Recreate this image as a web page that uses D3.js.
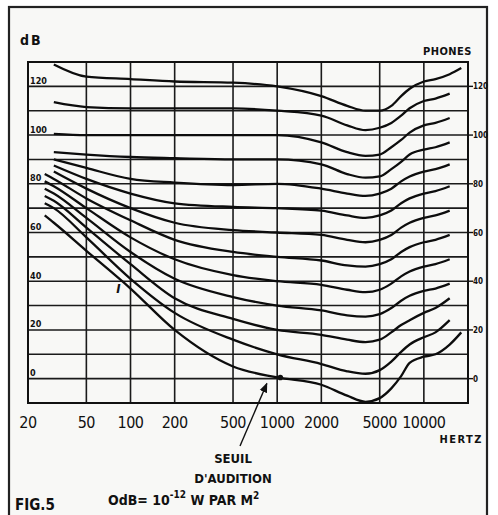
<!DOCTYPE html>
<html>
<head>
<meta charset="utf-8">
<script src="https://cdn.jsdelivr.net/npm/d3@7"></script>
<style>
  body { margin: 0; background: #fff; }
  text { font-family: "DejaVu Sans Condensed", "DejaVu Sans", sans-serif; fill: #111; }
</style>
</head>
<body>
<div id="chart"></div>
<script>
// frequencies (Hz) where each loudness contour is read
const freqs = [26, 30, 50, 100, 200, 500, 1000, 2000, 3000, 4000, 5000, 6000, 7000, 8000, 10000, 12000, 15000, 18000];

// dB values per contour (phones), null = contour not drawn there
const phon120 = [null, 129, 124, 123, 122, 121.5, 120, 116, 112, 110, 110, 112, 116, 119, 122, 123, 125, 127.5];
const phon110 = [null, 113.5, 111.5, 111, 111, 111, 110, 108, 104, 102, 103, 105, 108, 111, 114, 115, 117, null];
const phon100 = [null, 100.5, 100, 100, 100, 100, 100, 97, 93, 91.5, 92, 95, 98, 101, 104, 105, 107, null];
const phon90 = [null, 93, 92, 91, 90.5, 90, 90, 88, 84, 82.5, 83, 86, 89, 92, 94, 95, 97, null];
const phon80 = [null, 90, 86.5, 82, 80.5, 79.5, 80, 78, 76, 75, 76, 78, 81, 83, 85, 86, 88, null];
const phon70 = [null, 87.5, 82, 76, 72, 70.5, 70, 69, 67, 66, 67, 69, 72, 74, 76, 77, 79, null];
const phon60 = [null, 85, 78, 70, 64, 61, 60, 59, 57, 56, 57, 59, 62, 64, 66, 67, 69, null];
const phon50 = [84, 82, 74, 65, 57, 52, 50, 48.5, 46.5, 46, 47, 49, 52, 54, 56, 57, 59, null];
const phon40 = [81, 79, 70, 58, 49, 42.5, 40, 38.5, 36.5, 35.5, 36.5, 39, 42, 44, 46, 47, 49, null];
const phon30 = [78, 76, 66, 52, 41, 33.5, 30, 28, 26, 25.5, 26.5, 29, 32, 34, 36, 37, 39, null];
const phon20 = [75, 73, 62, 47, 33, 24.5, 20, 18, 16, 15, 16, 19, 22, 24, 27, 29, 33, null];
const phon10 = [72, 70, 58, 41, 27, 16, 10, 6, 3, 2, 3.5, 7, 11, 14, 17, 19, 24, null];
const phon0 = [67, 64, 52.5, 37, 20, 5, 0.5, -2.5, -7, -9.5, -8, -4, 1, 6.5, 9, 10, 14, 19];

const contours = [phon120, phon110, phon100, phon90, phon80, phon70, phon60,
                  phon50, phon40, phon30, phon20, phon10, phon0];

// axis ticks
const freqTicks = [20, 50, 100, 200, 500, 1000, 2000, 5000, 10000];
const freqLabels = ["20", "50", "100", "200", "500", "1000", "2000", "5000", "10000"];
const dbGrid = [-10, 0, 10, 20, 30, 40, 50, 60, 70, 80, 90, 100, 110, 120, 130];
const dbLabels = [0, 20, 40, 60, 80, 100, 120];

const width = 498, height = 515;
const plot = { left: 28, right: 468, top: 62, bottom: 403 };

const svg = d3.select("#chart").append("svg")
  .attr("width", width)
  .attr("height", height);

// scanned paper + outer frame
svg.append("rect").attr("width", width).attr("height", height).attr("fill", "#fff");
svg.append("rect")
  .attr("x", 9).attr("y", 7).attr("width", 478).attr("height", 520)
  .attr("fill", "#f8f8f6").attr("stroke", "#222").attr("stroke-width", 2.2);

const x = d3.scaleLog().domain([20, 20000]).range([plot.left, plot.right]);
const y = d3.scaleLinear().domain([-10, 130]).range([plot.bottom, plot.top]);

// grid
const grid = svg.append("g").attr("stroke", "#1a1a1a");
grid.selectAll("line.h").data(dbGrid).enter().append("line")
  .attr("x1", plot.left).attr("x2", plot.right)
  .attr("y1", d => y(d)).attr("y2", d => y(d))
  .attr("stroke-width", 1.6);
grid.selectAll("line.v").data(freqTicks.concat([20000])).enter().append("line")
  .attr("x1", d => x(d)).attr("x2", d => x(d))
  .attr("y1", plot.top).attr("y2", plot.bottom)
  .attr("stroke-width", 1.6);
svg.append("rect")
  .attr("x", plot.left).attr("y", plot.top)
  .attr("width", plot.right - plot.left).attr("height", plot.bottom - plot.top)
  .attr("fill", "none").attr("stroke", "#111").attr("stroke-width", 2);

// contours
const line = d3.line()
  .defined(d => d[1] !== null)
  .x(d => x(d[0]))
  .y(d => y(d[1]))
  .curve(d3.curveMonotoneX);

svg.append("g").selectAll("path").data(contours).enter().append("path")
  .attr("d", c => line(freqs.map((f, i) => [f, c[i]])))
  .attr("fill", "none")
  .attr("stroke", "#0d0d0d")
  .attr("stroke-width", 2.3)
  .attr("stroke-linejoin", "round");

// left dB labels (inside plot, above line)
svg.append("g").selectAll("text").data(dbLabels).enter().append("text")
  .attr("x", plot.left + 2).attr("y", d => y(d) - 2.5)
  .attr("font-size", 9).attr("font-weight", "bold")
  .text(d => d);

// right phones labels with little ticks
const right = svg.append("g");
right.selectAll("line").data(dbLabels).enter().append("line")
  .attr("x1", plot.right).attr("x2", plot.right + 5)
  .attr("y1", d => y(d)).attr("y2", d => y(d))
  .attr("stroke", "#111").attr("stroke-width", 1.4);
right.selectAll("text").data(dbLabels).enter().append("text")
  .attr("x", plot.right + 5).attr("y", d => y(d) + 3)
  .attr("font-size", 8).attr("font-weight", "bold")
  .text(d => d);

// frequency labels
svg.append("g").selectAll("text").data(freqTicks).enter().append("text")
  .attr("x", d => x(d)).attr("y", 428)
  .attr("text-anchor", "middle")
  .attr("font-size", 16)
  .attr("letter-spacing", -0.5)
  .text((d, i) => freqLabels[i]);

svg.append("text").attr("x", 20).attr("y", 45)
  .attr("font-size", 14).attr("font-weight", "bold").attr("letter-spacing", 2).text("dB");
svg.append("text").attr("x", 472).attr("y", 55).attr("text-anchor", "end")
  .attr("font-size", 11).attr("font-weight", "bold").attr("letter-spacing", 0.5).text("PHONES");
svg.append("text").attr("x", 483).attr("y", 443).attr("text-anchor", "end")
  .attr("font-size", 11).attr("font-weight", "bold").attr("letter-spacing", 1.5).text("HERTZ");

// marker "I" on the threshold region
svg.append("text").attr("x", x(80)).attr("y", y(35))
  .attr("font-size", 13).attr("font-weight", "bold").attr("font-style", "italic").text("I");

// threshold annotation
svg.append("circle").attr("cx", x(1050)).attr("cy", y(0.5)).attr("r", 2.8).attr("fill", "#111");
svg.append("defs").append("marker")
  .attr("id", "arrow").attr("viewBox", "0 0 10 10").attr("refX", 9).attr("refY", 5)
  .attr("markerWidth", 7).attr("markerHeight", 7).attr("orient", "auto")
  .append("path").attr("d", "M0,1 L10,5 L0,9 Z").attr("fill", "#111");
svg.append("line")
  .attr("x1", 240).attr("y1", 446).attr("x2", x(850)).attr("y2", y(-2))
  .attr("stroke", "#111").attr("stroke-width", 1.4).attr("marker-end", "url(#arrow)");

svg.append("text").attr("x", 233).attr("y", 463).attr("text-anchor", "middle")
  .attr("font-size", 13).attr("font-weight", "bold").text("SEUIL");
svg.append("text").attr("x", 233).attr("y", 483).attr("text-anchor", "middle")
  .attr("font-size", 13).attr("font-weight", "bold").text("D'AUDITION");

const foot = svg.append("text").attr("x", 108).attr("y", 505).attr("font-size", 14).attr("font-weight", "bold");
foot.append("tspan").text("OdB= 10");
foot.append("tspan").attr("dy", -7).attr("font-size", 10).text("-12");
foot.append("tspan").attr("dy", 7).text(" W  PAR  M");
foot.append("tspan").attr("dy", -6).attr("font-size", 10).text("2");

svg.append("text").attr("x", 15).attr("y", 510).attr("font-size", 15).attr("font-weight", "bold").text("FIG.5");
</script>
</body>
</html>
